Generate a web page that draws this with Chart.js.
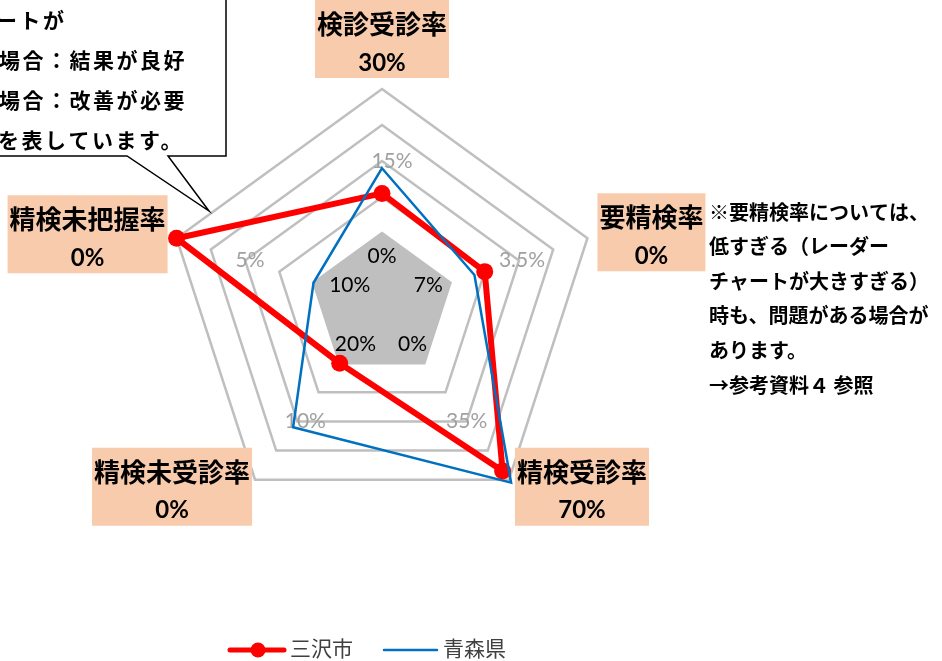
<!DOCTYPE html>
<html lang="ja">
<head>
<meta charset="utf-8">
<title>レーダーチャート</title>
<script src="https://cdn.jsdelivr.net/npm/chart.js@4.4.1/dist/chart.umd.min.js"></script>
<style>
  html, body { margin: 0; padding: 0; background: #fff; }
</style>
</head>
<body>
<canvas id="radar" width="942" height="661"></canvas>
<script>
// 軸（上から時計回り）
const categories = ['検診受診率', '要精検率', '精検受診率', '精検未受診率', '精検未把握率'];
const targetLabels = ['30%', '0%', '70%', '0%', '0%'];
// 各軸の目盛り（中心付近と4段目）
const innerTicks = ['0%', '7%', '0%', '20%', '10%'];
const outerTicks = ['15%', '3.5%', '35%', '10%', '5%'];
// 系列（0〜6段階）
const misawa = [3.1, 3.0, 5.7, 2.0, 6.0];
const aomori = [3.8, 2.7, 6.1, 4.2, 2.0];
const baseArea = [2, 2, 2, 2, 2];
const levels = 6;
const innerLevel = 1.35;
const outerLevel = 4;

const calloutLines = ['ートが', '場合：結果が良好', '場合：改善が必要', 'を表しています。'];
const noteLines = ['※要精検率については、', '低すぎる（レーダー', 'チャートが大きすぎる）', '時も、問題がある場合が', 'あります。', '→参考資料４ 参照'];

const JP = '"Noto Sans CJK JP", "Noto Sans", sans-serif';
const NUM = 'Lato, "Liberation Sans", sans-serif';

// 目盛りラベルの微調整
const innerNudge = [[0, 0], [0, -5], [2, 0], [2, 0], [14, -5]];
const outerNudge = [[10, 0], [3, 0], [0, 0], [8, 0], [5, 0]];
// 項目ボックスの置き方（外側の頂点からの相対位置）
const boxPlace = [
    (v, w) => ({ x: v.x - w / 2, y: v.y - 89 }),
    (v, w) => ({ x: v.x + 10, y: v.y - 45 }),
    (v, w) => ({ x: v.x + 6, y: v.y - 32 }),
    (v, w) => ({ x: v.x - 3 - w, y: v.y - 32 }),
    (v, w) => ({ x: v.x - 9 - w, y: v.y - 43 })
];

const decor = {
    id: 'decor',
    afterDatasetDraw(chart, args) {
        if (args.index !== 2) return; // 灰色の基準エリアの直後
        const ctx = chart.ctx;
        const r = chart.scales.r;
        ctx.save();
        ctx.textAlign = 'center';
        ctx.textBaseline = 'middle';
        ctx.font = '21px ' + NUM;
        ctx.fillStyle = '#000';
        innerTicks.forEach((t, i) => {
            const p = r.getPointPositionForValue(i, innerLevel);
            ctx.fillText(t, p.x + innerNudge[i][0], p.y + innerNudge[i][1]);
        });
        ctx.fillStyle = '#A0A0A0';
        outerTicks.forEach((t, i) => {
            const p = r.getPointPositionForValue(i, outerLevel);
            ctx.fillText(t, p.x + outerNudge[i][0], p.y + outerNudge[i][1]);
        });
        ctx.restore();
    },
    afterDraw(chart) {
        const ctx = chart.ctx;
        const r = chart.scales.r;
        ctx.save();

        // 項目名＋目標値のボックス
        categories.forEach((c, i) => {
            ctx.font = 'bold 26px ' + JP;
            const w = ctx.measureText(c).width + 4;
            const v = r.getPointPositionForValue(i, levels);
            const b = boxPlace[i](v, w);
            ctx.fillStyle = '#F8CBAD';
            ctx.fillRect(b.x, b.y, w, 78);
            ctx.fillStyle = '#000';
            ctx.textAlign = 'center';
            ctx.textBaseline = 'middle';
            ctx.fillText(c, b.x + w / 2, b.y + 24);
            ctx.font = 'bold 24px ' + NUM;
            ctx.fillText(targetLabels[i], b.x + w / 2, b.y + 63);
        });

        // 吹き出し
        ctx.beginPath();
        ctx.moveTo(-10, -10);
        ctx.lineTo(226, -10);
        ctx.lineTo(226, 156);
        ctx.lineTo(168, 156);
        ctx.lineTo(209, 211);
        ctx.lineTo(127, 156);
        ctx.lineTo(-10, 156);
        ctx.closePath();
        ctx.fillStyle = '#fff';
        ctx.fill();
        ctx.lineWidth = 1.5;
        ctx.strokeStyle = '#000';
        ctx.stroke();

        ctx.fillStyle = '#000';
        ctx.textAlign = 'left';
        ctx.textBaseline = 'middle';
        ctx.font = 'bold 21px ' + JP;
        ctx.letterSpacing = '2.5px';
        const cx = [-4, -1, -1, -2];
        calloutLines.forEach((l, i) => ctx.fillText(l, cx[i], 20 + i * 40));

        // 注記
        ctx.font = 'bold 20px ' + JP;
        ctx.letterSpacing = '0px';
        noteLines.forEach((l, i) => ctx.fillText(l, 709, 212 + i * 34.6));

        // 凡例
        const ds = chart.data.datasets;
        ctx.lineCap = 'round';
        ctx.strokeStyle = ds[0].borderColor;
        ctx.lineWidth = 5;
        ctx.beginPath();
        ctx.moveTo(230, 650);
        ctx.lineTo(284, 650);
        ctx.stroke();
        ctx.fillStyle = ds[0].borderColor;
        ctx.beginPath();
        ctx.arc(258, 650, 7.5, 0, Math.PI * 2);
        ctx.fill();
        ctx.strokeStyle = ds[1].borderColor;
        ctx.lineWidth = 2.5;
        ctx.beginPath();
        ctx.moveTo(384, 650);
        ctx.lineTo(437, 650);
        ctx.stroke();
        ctx.fillStyle = '#404040';
        ctx.font = '21px ' + JP;
        ctx.fillText(ds[0].label, 290, 648);
        ctx.fillText(ds[1].label, 443, 648);

        ctx.restore();
    }
};

new Chart(document.getElementById('radar'), {
    type: 'radar',
    data: {
        labels: categories,
        datasets: [
            {
                label: '三沢市', data: misawa, order: 1,
                borderColor: '#FF0000', backgroundColor: '#FF0000',
                borderWidth: 6, borderJoinStyle: 'round',
                pointRadius: 8.5, pointBorderWidth: 0, pointBackgroundColor: '#FF0000',
                fill: false
            },
            {
                label: '青森県', data: aomori, order: 0,
                borderColor: '#0070C0', backgroundColor: '#0070C0',
                borderWidth: 2.5, pointRadius: 0, fill: false
            },
            {
                label: '', data: baseArea, order: 2,
                borderWidth: 0, pointRadius: 0,
                backgroundColor: '#BFBFBF', fill: true
            }
        ]
    },
    options: {
        responsive: false,
        animation: false,
        events: [],
        layout: { padding: { left: 166, right: 344, top: 89, bottom: 140 } },
        plugins: { legend: { display: false }, tooltip: { enabled: false } },
        scales: {
            r: {
                min: 0, max: levels,
                ticks: { display: false, stepSize: 1 },
                pointLabels: { display: false },
                angleLines: { display: false },
                grid: { color: '#BFBFBF', lineWidth: 2.5 }
            }
        }
    },
    plugins: [decor]
});
</script>
</body>
</html>
